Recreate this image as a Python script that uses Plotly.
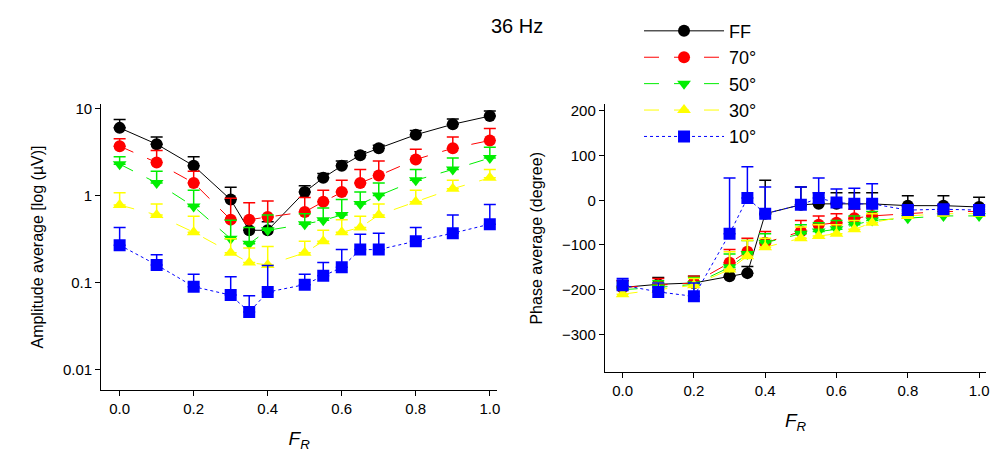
import plotly.graph_objects as go
from plotly.subplots import make_subplots

fr = [0.0, 0.1, 0.2, 0.3, 0.35, 0.4, 0.5, 0.55, 0.6, 0.65, 0.7, 0.8, 0.9, 1.0]
names = ["FF", "70°", "50°", "30°", "10°"]

amp_ff = [6.0, 3.9, 2.2, 0.9, 0.4, 0.4, 1.1, 1.6, 2.2, 2.9, 3.5, 5.0, 6.6, 8.2]
amp_70 = [3.7, 2.4, 1.4, 0.53, 0.53, 0.57, 0.65, 0.85, 1.1, 1.4, 1.7, 2.6, 3.5, 4.3]
amp_50 = [2.3, 1.4, 0.75, 0.32, 0.28, 0.4, 0.47, 0.52, 0.6, 0.8, 1.0, 1.5, 2.0, 2.7]
amp_30 = [0.78, 0.6, 0.38, 0.22, 0.17, 0.16, 0.22, 0.3, 0.38, 0.43, 0.6, 0.85, 1.2, 1.6]
amp_10 = [0.27, 0.16, 0.09, 0.072, 0.046, 0.078, 0.095, 0.12, 0.15, 0.24, 0.24, 0.3, 0.37, 0.47]

amp_err_ff = [1.5, 0.8, 0.6, 0.35, 0.12, 0.1, 0.2, 0.2, 0.3, 0.3, 0.3, 0.6, 1.0, 1.2]
amp_err_70 = [0.8, 0.9, 0.5, 0.4, 0.3, 0.3, 0.3, 0.3, 0.4, 0.6, 0.8, 0.8, 1.2, 1.6]
amp_err_50 = [0.5, 0.5, 0.4, 0.2, 0.15, 0.2, 0.15, 0.2, 0.3, 0.3, 0.4, 0.5, 0.7, 0.9]
amp_err_30 = [0.3, 0.2, 0.2, 0.1, 0.08, 0.1, 0.08, 0.1, 0.15, 0.15, 0.2, 0.3, 0.3, 0.4]
amp_err_10 = [0.16, 0.05, 0.035, 0.045, 0.025, 0.08, 0.03, 0.05, 0.09, 0.12, 0.13, 0.13, 0.23, 0.32]

ph_ff = [-195, -188, -185, -170, -163, -30, -10, -8, -8, -8, -8, -12, -12, -15]
ph_70 = [-195, -190, -185, -140, -115, -95, -70, -55, -50, -40, -35, -30, -25, -25]
ph_50 = [-200, -195, -188, -150, -120, -95, -75, -70, -65, -55, -45, -40, -35, -35]
ph_30 = [-210, -200, -190, -155, -125, -105, -85, -80, -75, -65, -50, -35, -30, -30]
ph_10 = [-190, -205, -215, -75, 5, -30, -10, 5, -5, -8, -8, -22, -20, -22]

ph_err_ff = [15, 15, 15, 15, 15, 75, 40, 25, 25, 25, 25, 22, 22, 22]
ph_err_70 = [15, 15, 15, 30, 30, 25, 25, 20, 20, 20, 20, 15, 15, 15]
ph_err_50 = [15, 15, 15, 30, 30, 20, 20, 20, 20, 20, 20, 15, 15, 15]
ph_err_30 = [15, 15, 15, 40, 35, 20, 25, 25, 20, 20, 20, 15, 15, 15]
ph_err_10 = [15, 20, 30, 125, 70, 60, 40, 45, 30, 35, 45, 10, 10, 10]

colors = ["black", "red", "#00ee00", "#ffff00", "blue"]
symbols = ["circle", "circle", "triangle-down", "triangle-up", "square"]
dashes = ["solid", "longdash", "longdash", "longdash", "dot"]
amps = [amp_ff, amp_70, amp_50, amp_30, amp_10]
amp_errs = [amp_err_ff, amp_err_70, amp_err_50, amp_err_30, amp_err_10]
phs = [ph_ff, ph_70, ph_50, ph_30, ph_10]
ph_errs = [ph_err_ff, ph_err_70, ph_err_50, ph_err_30, ph_err_10]

fig = make_subplots(rows=1, cols=2)
zeros = [0] * len(fr)

for i, name in enumerate(names):
    common = dict(mode="lines+markers", name=name,
                  line=dict(color=colors[i], dash=dashes[i], width=1),
                  marker=dict(color=colors[i], symbol=symbols[i], size=12))
    fig.add_trace(go.Scatter(
        x=fr, y=amps[i], showlegend=True,
        error_y=dict(type="data", array=amp_errs[i], arrayminus=zeros,
                     symmetric=False, color=colors[i], thickness=1.5, width=6),
        **common), row=1, col=1)
    fig.add_trace(go.Scatter(
        x=fr, y=phs[i], showlegend=False,
        error_y=dict(type="data", array=ph_errs[i], arrayminus=zeros,
                     symmetric=False, color=colors[i], thickness=1.5, width=6),
        **common), row=1, col=2)

axis_style = dict(showline=True, linecolor="black", linewidth=1, ticks="outside",
                  tickcolor="black", showgrid=False, zeroline=False,
                  tickfont=dict(size=15, color="black"))

fig.update_xaxes(range=[-0.05, 1.02], tickvals=[0, 0.2, 0.4, 0.6, 0.8, 1.0],
                 tickformat=".1f", **axis_style)
fig.update_xaxes(domain=[0.085, 0.49], row=1, col=1)
fig.update_xaxes(domain=[0.6, 0.99], row=1, col=2)
fig.update_xaxes(title=dict(text="<i>F<sub>R</sub></i>", font=dict(size=19, color="black")))

fig.update_yaxes(type="log", range=[-2.23, 1.05], tickvals=[0.01, 0.1, 1, 10],
                 ticktext=["0.01", "0.1", "1", "10"], domain=[0.145, 0.8],
                 title=dict(text="Amplitude average [log (µV)]", font=dict(size=16, color="black")),
                 row=1, col=1, **axis_style)
fig.update_yaxes(range=[-385, 215], tickvals=[-300, -200, -100, 0, 100, 200],
                 domain=[0.185, 0.8],
                 title=dict(text="Phase average (degree)", font=dict(size=16, color="black")),
                 row=1, col=2, **axis_style)

fig.update_layout(
    width=998, height=450,
    margin=dict(l=10, r=10, t=5, b=5),
    paper_bgcolor="white", plot_bgcolor="white",
    font=dict(family="Arial, Liberation Sans", color="black"),
    legend=dict(x=0.635, y=1.01, xanchor="left", yanchor="top",
                font=dict(size=18), itemwidth=80, tracegroupgap=0,
                bgcolor="rgba(0,0,0,0)"),
    annotations=[dict(text="36 Hz", x=0.51, y=1.01, xref="paper", yref="paper",
                      yanchor="top", showarrow=False, font=dict(size=20, color="black"))],
)

fig.write_html("out.html")
